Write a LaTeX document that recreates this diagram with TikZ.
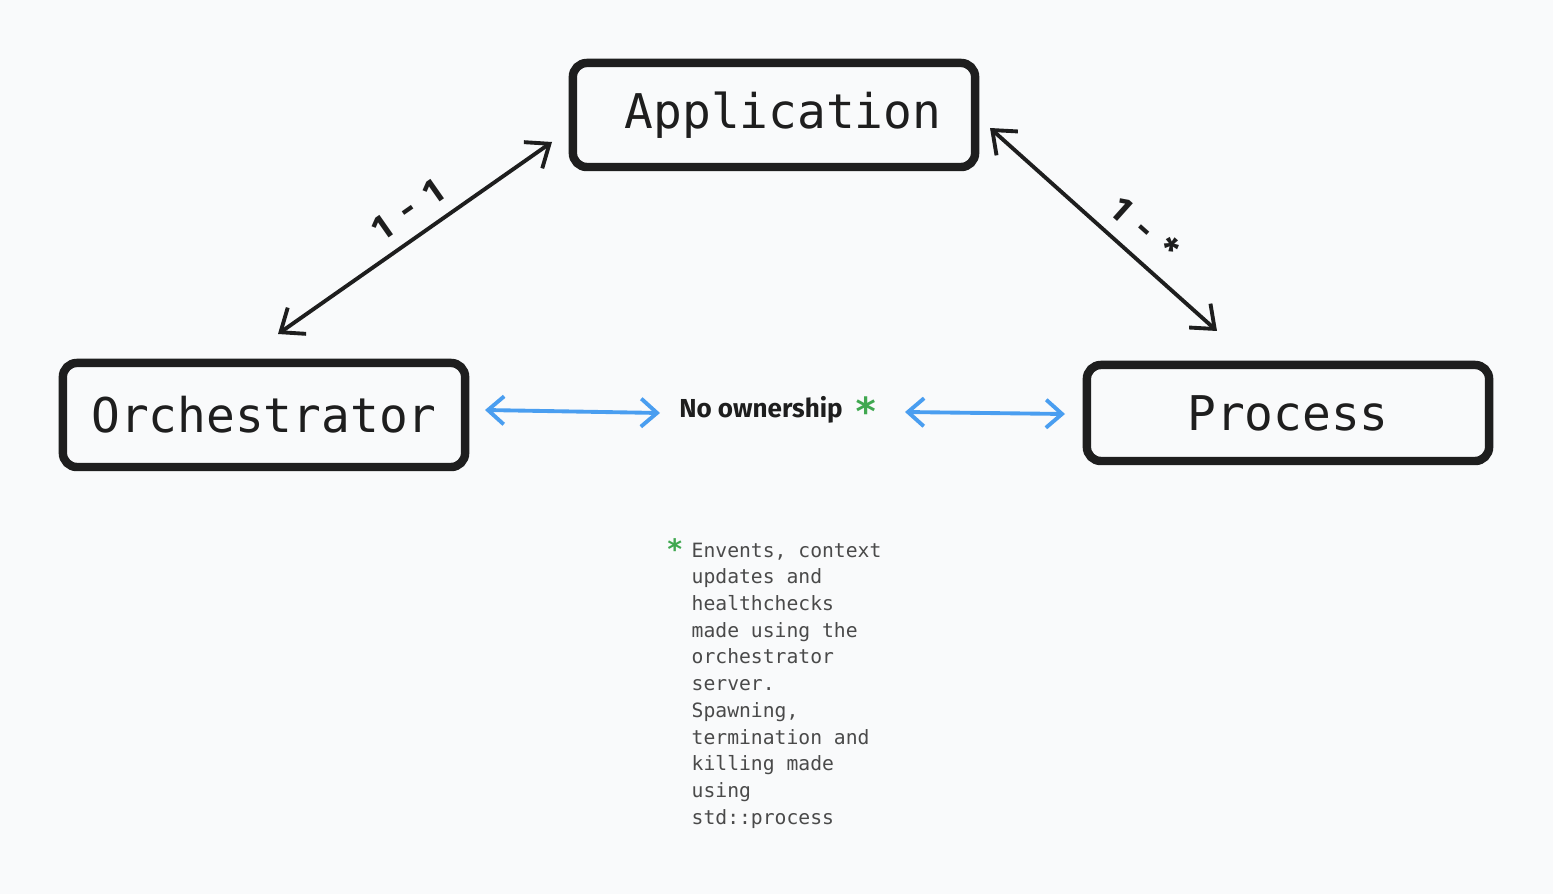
\documentclass[tikz,border=0pt]{standalone}
\usepackage{fontspec}
\newfontfamily\monofont{DejaVu Sans Mono}
\newfontfamily\handfont{Fira Sans}
\usetikzlibrary{arrows.meta,positioning}
\definecolor{bgcol}{HTML}{F9FAFB}
\definecolor{inkcol}{HTML}{1E1E1E}
\definecolor{linkblue}{HTML}{4A9EF0}
\definecolor{stargreen}{HTML}{40A850}
\definecolor{notegray}{HTML}{4A4A4A}
\begin{document}
\begin{tikzpicture}[x=0.01cm, y=-0.01cm,
  box/.style={draw=inkcol, line width=2.4pt, rounded corners=1.4mm, minimum width=4.02cm, minimum height=1.04cm, font=\monofont\fontsize{13.6}{16}\selectfont, text=inkcol},
  link/.style={draw=inkcol, line width=1.1pt, {Straight Barb[length=2mm,width=3.2mm]}-{Straight Barb[length=2mm,width=3.2mm]}},
  weak/.style={draw=linkblue, line width=1.1pt, {Straight Barb[length=1.6mm,width=2.8mm]}-{Straight Barb[length=1.6mm,width=2.8mm]}},
  card/.style={font=\handfont\bfseries\fontsize{10}{12}\selectfont, text=inkcol, inner sep=1pt}]
\fill[bgcol] (0,0) rectangle (1553,894);
\useasboundingbox (0,0) rectangle (1553,894);
% entities
\node[box] (app) at (774,115) {\hspace{1.8mm}Application};
\node[box] (orch) at (264,415) {Orchestrator};
\node[box, minimum height=0.96cm] (proc) at (1288,413) {Process};
% ends of the links
\coordinate (oa) at (278,334); \coordinate (ao) at (552,142);
\coordinate (ap) at (990,128); \coordinate (pa) at (1217,331);
\coordinate (ow) at (485,410); \coordinate (wo) at (660,413);
\coordinate (pw) at (905,412); \coordinate (wp) at (1065,414);
\draw[link] (oa) -- node[card, sloped, above=1mm, pos=0.53]{1\hspace{1.6mm}-\hspace{1.6mm}1} (ao);
\draw[link] (ap) -- node[card, sloped, above=1mm, pos=0.6]{1\hspace{1.6mm}-\hspace{1.6mm}*} (pa);
% no ownership
\node[font=\handfont\bfseries\fontsize{7.4}{9}\selectfont, text=inkcol] (own) at (761,410) {No ownership};
\node[font=\monofont\bfseries\fontsize{11}{12}\selectfont, text=stargreen, inner sep=0pt] (ownstar) at (866,411) {*};
\draw[weak] (ow) -- (wo);
\draw[weak] (pw) -- (wp);
% footnote
\node[anchor=north west, align=left, inner sep=0pt, text=notegray, font=\monofont\fontsize{5.6}{7.6}\selectfont] (note) at (691,542) {Envents, context\\updates and\\healthchecks\\made using the\\orchestrator\\server.\\Spawning,\\termination and\\killing made\\using\\std::process};
\node[font=\monofont\bfseries\fontsize{8}{9}\selectfont, text=stargreen, anchor=north east, inner sep=0pt] (notestar) at (684,538) {*};
\end{tikzpicture}
\end{document}
